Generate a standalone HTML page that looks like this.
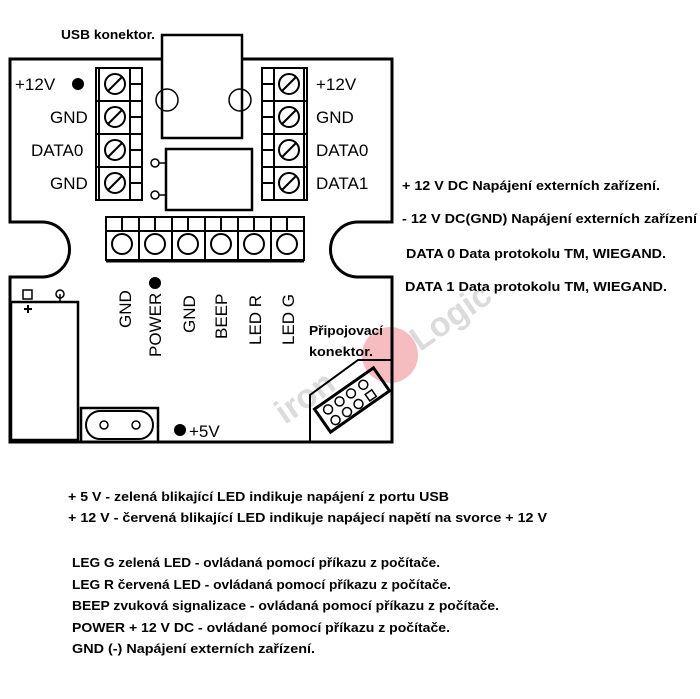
<!DOCTYPE html>
<html><head><meta charset="utf-8"><style>html,body{margin:0;padding:0;background:#fff}svg{display:block}</style></head><body>
<svg width="700" height="699" viewBox="0 0 700 699" xmlns="http://www.w3.org/2000/svg" font-family="Liberation Sans, sans-serif">
<!-- watermark -->
<g opacity="0.35">
<circle cx="390" cy="355" r="28" fill="#e8424a"/>
<text x="285" y="425" font-size="34" font-weight="bold" fill="#999" transform="rotate(-35 285 425)">iron</text>
<text x="420" y="352" font-size="34" font-weight="bold" fill="#999" transform="rotate(-35 420 352)">Logic</text>
</g>
<g fill="none" stroke="#000" stroke-width="3">
<!-- board outline -->
<path d="M242,59 H392 V222 H358 A27,27 0 0 0 358,277 H392 V442 H10 V277 H42 A27,27 0 0 0 42,222 H10 V59 H162"/>
<!-- USB -->
<rect x="162" y="35" width="80" height="103" stroke-width="2.5" fill="#fff"/>
<circle cx="167" cy="100" r="11" stroke-width="1.5"/>
<circle cx="240" cy="100" r="11" stroke-width="1.5"/>
<!-- inner box -->
<rect x="166" y="149" width="86" height="61" stroke-width="2.5"/>
<circle cx="155" cy="163" r="4" stroke-width="1.5"/><line x1="159" y1="163" x2="166" y2="163" stroke-width="1.5"/>
<circle cx="155" cy="195" r="4" stroke-width="1.5"/><line x1="159" y1="195" x2="166" y2="195" stroke-width="1.5"/>
</g>
<g stroke="#000" fill="none" stroke-width="2">
<rect x="96" y="68" width="46" height="132"/>
<line x1="99" y1="68" x2="99" y2="200"/>
<line x1="130" y1="68" x2="130" y2="200"/>
<line x1="96" y1="101" x2="142" y2="101"/><line x1="96" y1="134" x2="142" y2="134"/><line x1="96" y1="167" x2="142" y2="167"/>
<g id="sl"><circle cx="115" cy="84" r="10"/><line x1="108" y1="91" x2="122" y2="77"/><line x1="130" y1="84" x2="142" y2="84"/></g>
<use href="#sl" y="33"/><use href="#sl" y="66"/><use href="#sl" y="99"/>
<rect x="262" y="68" width="45" height="132"/>
<line x1="304" y1="68" x2="304" y2="200"/>
<line x1="274" y1="68" x2="274" y2="200"/>
<line x1="262" y1="101" x2="307" y2="101"/><line x1="262" y1="134" x2="307" y2="134"/><line x1="262" y1="167" x2="307" y2="167"/>
<g id="sr"><circle cx="289" cy="84" r="10"/><line x1="282" y1="91" x2="296" y2="77"/><line x1="262" y1="84" x2="274" y2="84"/></g>
<use href="#sr" y="33"/><use href="#sr" y="66"/><use href="#sr" y="99"/>
<rect x="106" y="217" width="198" height="43"/>
<line x1="106" y1="231" x2="304" y2="231"/>
<line x1="106" y1="261" x2="304" y2="261" stroke-width="3"/>
<line x1="139" y1="217" x2="139" y2="261"/><line x1="172" y1="217" x2="172" y2="261"/><line x1="205" y1="217" x2="205" y2="261"/><line x1="238" y1="217" x2="238" y2="261"/><line x1="271" y1="217" x2="271" y2="261"/>
<g id="bc"><line x1="122" y1="217" x2="122" y2="231"/><circle cx="122" cy="244" r="10"/></g>
<use href="#bc" x="33"/><use href="#bc" x="66"/><use href="#bc" x="99"/><use href="#bc" x="132"/><use href="#bc" x="165"/>
<rect x="11" y="302" width="67" height="138" stroke-width="2.5"/>
<rect x="23" y="290" width="9" height="9" stroke-width="1.5"/>
<circle cx="60" cy="294" r="4" stroke-width="1.5"/><line x1="60" y1="294" x2="60" y2="302" stroke-width="1.5"/>
<path d="M28,305 v8 M24,309 h8" stroke-width="2"/>
<rect x="81" y="408" width="77" height="34" stroke-width="2.5"/>
<rect x="86" y="411" width="67" height="28" rx="14" stroke-width="2"/>
<circle cx="104" cy="425" r="4" stroke-width="1.5"/><circle cx="136" cy="425" r="4" stroke-width="1.5"/>
<path d="M310,442 V395 L358,360 H392" stroke-width="2"/>
<g transform="translate(352,400) rotate(-35)">
<rect x="-36" y="-14" width="72" height="28" stroke-width="3"/>
<circle cx="-25" cy="-6" r="4.5" stroke-width="1.5"/><circle cx="-11" cy="-6" r="4.5" stroke-width="1.5"/><circle cx="3" cy="-6" r="4.5" stroke-width="1.5"/><circle cx="18" cy="-6" r="4.5" stroke-width="1.5"/>
<circle cx="-25" cy="7" r="4.5" stroke-width="1.5"/><circle cx="-11" cy="7" r="4.5" stroke-width="1.5"/><circle cx="3" cy="7" r="4.5" stroke-width="1.5"/><rect x="14" y="3" width="8" height="8" stroke-width="1.5"/>
</g>
</g>
<circle cx="78" cy="84" r="6"/><circle cx="155" cy="283" r="6"/><circle cx="180" cy="430" r="6"/>
<g font-size="17" fill="#000">
<text x="15" y="90">+12V</text>
<text x="50" y="123">GND</text>
<text x="31" y="156">DATA0</text>
<text x="50" y="189">GND</text>
<text x="316" y="90">+12V</text>
<text x="316" y="123">GND</text>
<text x="316" y="156">DATA0</text>
<text x="316" y="189">DATA1</text>
<text x="189" y="437">+5V</text>
<text transform="translate(131,328) rotate(-90)">GND</text>
<text transform="translate(161,357) rotate(-90)">POWER</text>
<text transform="translate(195,333) rotate(-90)">GND</text>
<text transform="translate(227,339) rotate(-90)">BEEP</text>
<text transform="translate(261,345) rotate(-90)">LED R</text>
<text transform="translate(294,345) rotate(-90)">LED G</text>
</g>
<g font-size="13" font-weight="bold" fill="#000">
<text x="61" y="39" textLength="94" lengthAdjust="spacingAndGlyphs">USB konektor.</text>
<text x="309" y="335" textLength="74" lengthAdjust="spacingAndGlyphs">Připojovací</text>
<text x="309" y="356" textLength="64" lengthAdjust="spacingAndGlyphs">konektor.</text>
<text x="402" y="190" textLength="258" lengthAdjust="spacingAndGlyphs">+ 12 V DC Napájení externích zařízení.</text>
<text x="402" y="223" textLength="295" lengthAdjust="spacingAndGlyphs">- 12 V DC(GND) Napájení externích zařízení</text>
<text x="406" y="258" textLength="260" lengthAdjust="spacingAndGlyphs">DATA 0 Data protokolu TM, WIEGAND.</text>
<text x="405" y="291" textLength="262" lengthAdjust="spacingAndGlyphs">DATA 1 Data protokolu TM, WIEGAND.</text>
<text x="68" y="501" textLength="381" lengthAdjust="spacingAndGlyphs">+ 5 V - zelená blikající LED indikuje napájení z portu USB</text>
<text x="68" y="522" textLength="479" lengthAdjust="spacingAndGlyphs">+ 12 V - červená blikající LED indikuje napájecí napětí  na svorce + 12 V</text>
<text x="72" y="567" textLength="368" lengthAdjust="spacingAndGlyphs">LEG G zelená LED - ovládaná pomocí příkazu z počítače.</text>
<text x="72" y="589" textLength="379" lengthAdjust="spacingAndGlyphs">LEG R červená LED - ovládaná pomocí příkazu z počítače.</text>
<text x="72" y="610" textLength="427" lengthAdjust="spacingAndGlyphs">BEEP zvuková signalizace - ovládaná pomocí příkazu z počítače.</text>
<text x="72" y="632" textLength="378" lengthAdjust="spacingAndGlyphs">POWER + 12 V DC - ovládané pomocí příkazu z počítače.</text>
<text x="72" y="653" textLength="243" lengthAdjust="spacingAndGlyphs">GND (-) Napájení externích zařízení.</text>
</g>
</svg>
</body></html>
